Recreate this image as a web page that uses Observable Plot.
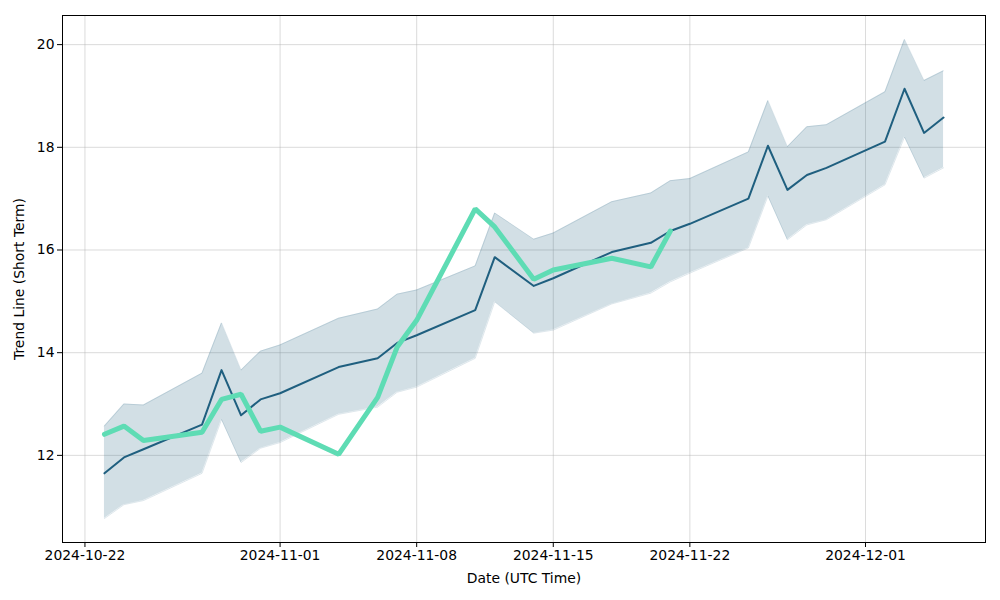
<!DOCTYPE html>
<html>
<head>
<meta charset="utf-8">
<script src="https://cdn.jsdelivr.net/npm/d3@7"></script>
<script src="https://cdn.jsdelivr.net/npm/@observablehq/plot@0.6"></script>
<style>
  html, body { margin: 0; padding: 0; background: #fff; }
  #chart { width: 1000px; height: 600px; }
</style>
</head>
<body>
<div id="chart"></div>
<script>
const dates = ["2024-10-23","2024-10-24","2024-10-25","2024-10-28","2024-10-29","2024-10-30","2024-10-31","2024-11-01","2024-11-04","2024-11-06","2024-11-07","2024-11-08","2024-11-11","2024-11-12","2024-11-14","2024-11-15","2024-11-18","2024-11-20","2024-11-21","2024-11-22","2024-11-25","2024-11-26","2024-11-27","2024-11-28","2024-11-29","2024-12-02","2024-12-03","2024-12-04","2024-12-05"];
const trend = [11.65,11.96,12.12,12.60,13.66,12.78,13.09,13.21,13.72,13.89,14.19,14.34,14.83,15.86,15.30,15.45,15.96,16.14,16.37,16.51,17.00,18.03,17.17,17.46,17.60,18.11,19.14,18.28,18.58];
const upper = [12.57,13.00,12.98,13.60,14.58,13.66,14.03,14.15,14.67,14.85,15.14,15.22,15.69,16.72,16.21,16.33,16.94,17.11,17.35,17.39,17.91,18.91,18.01,18.40,18.44,19.08,20.10,19.30,19.49];
const lower = [10.77,11.04,11.12,11.65,12.70,11.86,12.14,12.25,12.80,12.94,13.23,13.33,13.89,14.99,14.38,14.44,14.95,15.16,15.38,15.55,16.04,17.05,16.20,16.49,16.59,17.27,18.20,17.40,17.60];
const actualDates = ["2024-10-23","2024-10-24","2024-10-25","2024-10-28","2024-10-29","2024-10-30","2024-10-31","2024-11-01","2024-11-04","2024-11-06","2024-11-07","2024-11-08","2024-11-11","2024-11-12","2024-11-14","2024-11-15","2024-11-18","2024-11-20","2024-11-21"];
const actual = [12.41,12.57,12.29,12.45,13.09,13.19,12.47,12.55,12.02,13.13,14.11,14.63,16.80,16.45,15.43,15.61,15.84,15.67,16.37];
const xTickLabels = ["2024-10-22","2024-11-01","2024-11-08","2024-11-15","2024-11-22","2024-12-01"];
const yTicks = [12,14,16,18,20];

const parse = d3.utcParse("%Y-%m-%d");
const band = dates.map((d, i) => ({date: parse(d), trend: trend[i], upper: upper[i], lower: lower[i]}));
const act = actualDates.map((d, i) => ({date: parse(d), value: actual[i]}));
const xTicks = xTickLabels.map(parse);

const dark = "#1f5f7f";
const chart = Plot.plot({
  width: 1000,
  height: 600,
  marginLeft: 62,
  marginRight: 15,
  marginTop: 15,
  marginBottom: 58,
  style: {fontFamily: "DejaVu Sans", fontSize: "13.9px", color: "#000", background: "#fff"},
  x: {type: "utc", domain: [new Date(Date.UTC(2024,9,20,20,24)), new Date(Date.UTC(2024,11,7,3,36))]},
  y: {domain: [10.303, 20.567]},
  marks: [
    Plot.gridX(xTicks, {stroke: "#b0b0b0", strokeOpacity: 0.45, strokeWidth: 1}),
    Plot.gridY(yTicks, {stroke: "#b0b0b0", strokeOpacity: 0.45, strokeWidth: 1}),
    Plot.areaY(band, {x: "date", y1: "lower", y2: "upper", fill: dark, fillOpacity: 0.2, curve: "linear"}),
    Plot.lineY(band, {x: "date", y: "upper", stroke: dark, strokeOpacity: 0.15, strokeWidth: 1}),
    Plot.lineY(band, {x: "date", y: "lower", stroke: dark, strokeOpacity: 0.15, strokeWidth: 1}),
    Plot.lineY(band, {x: "date", y: "trend", stroke: dark, strokeWidth: 2}),
    Plot.lineY(act, {x: "date", y: "value", stroke: "#5edcb4", strokeWidth: 5, strokeLinejoin: "miter"}),
    Plot.axisX({ticks: xTicks, tickFormat: d3.utcFormat("%Y-%m-%d"), tickSize: 5, tickPadding: 3, label: "Date (UTC Time)", labelAnchor: "center", labelArrow: "none", labelOffset: 40}),
    Plot.axisY({ticks: yTicks, tickFormat: d => String(d), tickSize: 5, tickPadding: 3, label: "Trend Line (Short Term)", labelAnchor: "center", labelArrow: "none", labelOffset: 48}),
    Plot.frame({stroke: "#000", strokeWidth: 1})
  ]
});
document.getElementById("chart").appendChild(chart);
</script>
</body>
</html>
